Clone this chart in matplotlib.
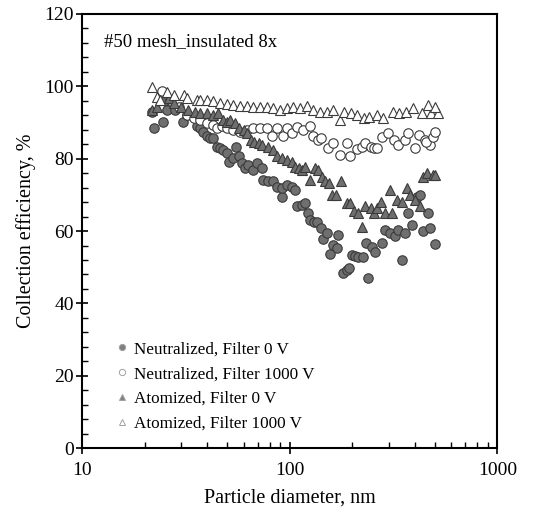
import matplotlib
matplotlib.use('Agg')
import matplotlib.pyplot as plt
from matplotlib.ticker import MultipleLocator, LogLocator, NullFormatter

plt.rcParams['font.family'] = ['Liberation Serif', 'DejaVu Serif']

# Neutralized, Filter 0 V
neu0_x = [21.7, 22.3, 24.6, 25.6, 28.0, 30.5, 31.9, 35.7, 37.0, 38.4, 39.8, 41.3, 42.9,
          44.5, 46.2, 47.9, 49.7, 51.0, 53.6, 55.1, 57.2, 58.7, 60.9, 63.2, 66.8, 69.4,
          73.3, 74.7, 78.9, 83.4, 86.6, 91.5, 91.5, 96.7, 102.2, 106.1, 108.1, 114.2,
          118.5, 123.0, 125.3, 131.0, 134.9, 141.0, 145.3, 150.8, 156.4, 161.1, 168.4,
          171.5, 179.9, 188.1, 193.8, 198.9, 206.4, 214.2, 226.4, 233.2, 239.3, 248.3,
          257.6, 277.3, 287.7, 304.1, 321.5, 333.6, 346.2, 359.3, 372.8, 386.8, 408.9,
          424.3, 440.3, 465.4, 474.1, 501.0]
neu0_y = [93.0, 88.4, 90.2, 93.5, 93.5, 90.2, 92.0, 88.9, 88.4, 87.5, 86.3, 85.6, 85.6,
          83.3, 82.9, 82.4, 81.7, 79.2, 80.1, 83.3, 80.8, 78.7, 77.3, 78.3, 76.9, 78.7,
          77.3, 74.1, 73.7, 73.7, 72.3, 69.5, 71.8, 72.7, 72.3, 71.4, 66.9, 67.2,
          67.7, 65.0, 63.1, 62.6, 62.6, 60.8, 57.7, 59.4, 53.7, 56.2, 55.2,
          58.9, 48.3, 49.3, 49.9, 53.4, 53.1, 52.9, 52.8, 56.6, 47.0, 55.7,
          54.3, 56.6, 60.3, 59.4, 58.5, 60.3, 52.0, 59.4, 65.0, 61.7, 69.5,
          70.0, 59.9, 65.0, 60.8, 56.4]

# Neutralized, Filter 1000 V
neu1_x = [24.3, 26.6, 29.3, 31.9, 34.5, 37.0, 39.8, 42.9, 44.5, 47.1, 49.7, 53.6, 57.7,
          62.1, 66.8, 72.1, 77.6, 82.1, 86.6, 93.2, 96.7, 102.2, 108.1, 116.3, 125.3,
          129.8, 136.9, 142.1, 153.6, 162.4, 175.1, 188.1, 195.3, 210.3, 222.3, 230.4,
          244.8, 254.0, 263.6, 277.3, 298.7, 316.1, 333.6, 359.3, 372.8, 401.4, 416.7,
          445.9, 474.1, 452.6, 488.0, 501.0]
neu1_y = [98.8, 96.2, 94.4, 92.1, 91.2, 90.7, 89.8, 89.3, 88.4, 88.9, 88.4, 87.9, 87.5,
          87.9, 88.4, 88.4, 88.6, 86.3, 88.4, 86.3, 88.4, 87.2, 88.7, 87.9, 88.9,
          86.3, 85.2, 85.6, 82.9, 84.3, 81.0, 84.3, 80.6, 82.6, 83.3, 84.3,
          83.3, 82.9, 82.9, 86.1, 87.0, 85.2, 83.8, 85.2, 87.0, 82.9, 86.6,
          85.2, 83.8, 84.7, 86.1, 87.5]

# Atomized, Filter 0 V
ato0_x = [21.7, 23.0, 24.6, 26.1, 27.6, 30.0, 32.5, 35.1, 37.0, 39.8, 42.9, 45.3, 47.9,
          49.7, 51.5, 54.3, 57.2, 60.5, 62.6, 65.1, 67.5, 70.9, 73.3, 78.5, 82.8, 86.6,
          91.5, 96.7, 102.2, 106.1, 110.2, 114.2, 118.5, 125.3, 132.4, 137.4, 142.7,
          148.5, 154.3, 160.3, 166.9, 175.7, 188.1, 195.3, 203.1, 214.2, 222.3,
          230.4, 244.8, 254.0, 263.6, 273.8, 287.7, 304.1, 311.7, 328.9, 346.2,
          365.1, 379.9, 401.4, 424.3, 440.3, 457.7, 488.0, 501.0]
ato0_y = [93.5, 94.4, 96.2, 96.7, 95.3, 94.4, 93.5, 93.0, 92.5, 92.5, 92.1, 92.5, 90.7,
          90.2, 90.7, 89.8, 88.4, 87.9, 87.0, 85.2, 84.7, 84.3, 83.8, 83.3, 82.4, 80.6,
          80.1, 79.6, 79.2, 77.8, 77.3, 76.9, 77.8, 74.1, 77.3, 76.9, 75.0,
          73.7, 73.2, 70.0, 70.0, 73.7, 67.7, 67.7, 65.4, 64.9, 61.2,
          66.8, 66.3, 64.9, 66.3, 68.1, 64.9, 71.4, 64.9, 68.6, 68.1,
          71.8, 70.0, 68.6, 66.8, 75.0, 76.0, 75.5, 75.5]

# Atomized, Filter 1000 V
ato1_x = [21.7, 22.9, 23.8, 25.6, 27.6, 30.9, 31.9, 35.7, 37.0, 39.8, 42.9, 46.2, 49.7,
          53.6, 57.7, 62.1, 66.8, 72.1, 77.6, 83.4, 89.8, 96.7, 104.1, 112.1, 120.7,
          129.8, 139.8, 150.8, 162.4, 174.7, 182.5, 196.6, 211.6, 227.8, 241.6, 262.5,
          281.1, 312.4, 336.6, 362.9, 390.4, 431.5, 479.4, 519.0, 465.4, 501.0]
ato1_y = [99.9, 97.1, 96.2, 98.5, 97.6, 97.6, 96.7, 96.2, 96.2, 96.2, 95.8, 95.3, 95.1,
          94.8, 94.6, 94.6, 94.4, 94.4, 94.2, 93.9, 93.5, 93.9, 94.2, 93.9, 94.6,
          93.5, 93.0, 93.0, 93.5, 90.7, 93.0, 92.5, 92.1, 91.2, 91.6, 92.1,
          91.2, 93.0, 92.5, 93.0, 93.9, 92.5, 92.5, 92.5, 94.8, 94.4]

labels = ['Neutralized, Filter 0 V', 'Neutralized, Filter 1000 V',
          'Atomized, Filter 0 V', 'Atomized, Filter 1000 V']

fig = plt.figure(figsize=(5.54, 5.14), dpi=100)
ax = fig.add_axes([0.148, 0.128, 0.75, 0.845])

fill_c = '#6f6f6f'
edge_c = '#3a3a3a'
ms = 6.8

ax.plot(neu0_x, neu0_y, 'o', ms=ms, mfc=fill_c, mec=edge_c, mew=0.8)
ax.plot(neu1_x, neu1_y, 'o', ms=ms, mfc='white', mec=edge_c, mew=0.8)
ax.plot(ato0_x, ato0_y, '^', ms=ms, mfc=fill_c, mec=edge_c, mew=0.8)
ax.plot(ato1_x, ato1_y, '^', ms=ms, mfc='white', mec=edge_c, mew=0.8)

# legend with lighter, smaller markers
h = [ax.plot([], [], 'o', ms=4.5, mfc='#808080', mec='#a0a0a0', mew=0.7)[0],
     ax.plot([], [], 'o', ms=4.5, mfc='white', mec='#a0a0a0', mew=0.7)[0],
     ax.plot([], [], '^', ms=4.5, mfc='#808080', mec='#a0a0a0', mew=0.7)[0],
     ax.plot([], [], '^', ms=4.5, mfc='white', mec='#a0a0a0', mew=0.7)[0]]
ax.legend(h, labels, loc='upper left', bbox_to_anchor=(0.085, 0.246), frameon=False,
          fontsize=12.3, handlelength=0.6, handletextpad=0.35, labelspacing=0.52,
          borderpad=0, borderaxespad=0)

ax.set_xscale('log')
ax.set_xlim(10, 1000)
ax.set_ylim(0, 120)
ax.yaxis.set_major_locator(MultipleLocator(20))
ax.yaxis.set_minor_locator(MultipleLocator(4))
ax.xaxis.set_minor_locator(LogLocator(base=10, subs=range(2, 10)))
ax.xaxis.set_minor_formatter(NullFormatter())
ax.set_xticks([10, 100, 1000])
ax.set_xticklabels(['10', '100', '1000'])

ax.tick_params(which='major', direction='inout', length=8, width=1.2, labelsize=14)
ax.tick_params(which='minor', direction='in', length=4, width=1)
ax.tick_params(axis='x', which='major', pad=6)
ax.tick_params(axis='y', which='major', pad=2)
for s in ax.spines.values():
    s.set_linewidth(1.5)

ax.set_xlabel('Particle diameter, nm', fontsize=14.5, labelpad=7)
ax.set_ylabel('Collection efficiency, %', fontsize=14.5, labelpad=6)

ax.text(0.053, 0.935, '#50 mesh_insulated 8x', transform=ax.transAxes, fontsize=13.5,
        ha='left', va='center')

fig.savefig('out.png', dpi=100)
